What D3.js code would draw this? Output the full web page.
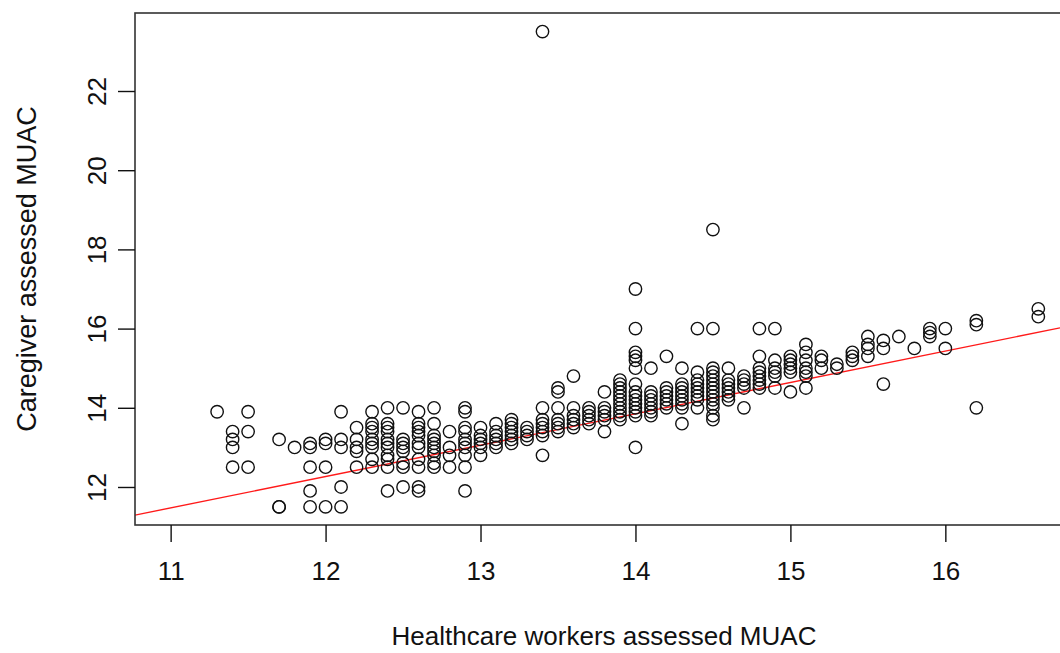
<!DOCTYPE html>
<html>

<head>
    <meta charset="utf-8">
    <script src="https://d3js.org/d3.v7.min.js" type="text/javascript"></script>
    <style>
    html,
    body {
        margin: 0;
        background: #fff;
    }
    svg {
        display: block;
    }
    .pt {
        fill: none;
        stroke: #111;
        stroke-width: 1.4px;
    }
    .fitline {
        stroke: #ff1a1a;
        stroke-width: 1.4px;
        fill: none;
    }
    .frame {
        fill: none;
        stroke: #333;
        stroke-width: 1.6px;
    }
    text {
        font-family: "Liberation Sans", Arial, Helvetica, sans-serif;
        fill: #111;
    }
    </style>
</head>

<body>
    <svg id="chart" width="1060" height="653"></svg>
    <script type="text/javascript">
    // healthcare worker MUAC values (x), one entry per column of points
    var hwMuac = [11.3, 11.4, 11.5, 11.7, 11.8, 11.9, 12.0, 12.1, 12.2, 12.3, 12.4, 12.5, 12.6, 12.7,
        12.8, 12.9, 13.0, 13.1, 13.2, 13.3, 13.4, 13.5, 13.6, 13.7, 13.8, 13.9, 14.0, 14.1, 14.2,
        14.3, 14.4, 14.5, 14.6, 14.7, 14.8, 14.9, 15.0, 15.1, 15.2, 15.3, 15.4, 15.5, 15.6, 15.7,
        15.8, 15.9, 16.0, 16.2, 16.6];

    // caregiver MUAC values (y) read for each column above
    var cgMuac = [
        [13.9],
        [13.4, 13.2, 13.0, 12.5],
        [13.9, 13.4, 12.5],
        [13.2, 11.5, 11.5],
        [13.0],
        [13.1, 13.0, 12.5, 11.9, 11.5],
        [13.2, 13.1, 12.5, 11.5],
        [13.9, 13.2, 13.0, 12.0, 11.5],
        [13.5, 13.2, 13.0, 12.9, 12.5],
        [13.9, 13.6, 13.5, 13.4, 13.2, 13.1, 13.0, 12.7, 12.5],
        [14.0, 13.6, 13.5, 13.4, 13.2, 13.1, 13.0, 12.8, 12.7, 12.5, 11.9],
        [14.0, 13.2, 13.1, 13.0, 12.9, 12.6, 12.5, 12.0],
        [13.9, 13.6, 13.5, 13.4, 13.3, 13.1, 13.0, 12.7, 12.5, 12.0, 11.9],
        [14.0, 13.6, 13.3, 13.2, 13.1, 13.0, 12.9, 12.8, 12.6, 12.5],
        [13.4, 13.0, 12.8, 12.5],
        [14.0, 13.9, 13.5, 13.4, 13.2, 13.1, 13.0, 12.8, 12.5, 11.9],
        [13.5, 13.3, 13.2, 13.1, 13.0, 12.8],
        [13.6, 13.4, 13.3, 13.2, 13.1, 13.0],
        [13.7, 13.6, 13.5, 13.4, 13.3, 13.2, 13.1],
        [13.5, 13.4, 13.3, 13.2],
        [23.5, 14.0, 13.7, 13.6, 13.5, 13.4, 13.3, 12.8],
        [14.5, 14.4, 14.0, 13.7, 13.6, 13.5, 13.4],
        [14.8, 14.0, 13.8, 13.7, 13.6, 13.5],
        [14.0, 13.9, 13.8, 13.7, 13.6],
        [14.4, 14.0, 13.9, 13.8, 13.7, 13.4],
        [14.7, 14.6, 14.5, 14.4, 14.3, 14.2, 14.1, 14.0, 13.9, 13.8, 13.7],
        [17.0, 16.0, 15.4, 15.3, 15.2, 15.0, 14.6, 14.4, 14.3, 14.2, 14.1, 14.0, 13.9, 13.8, 13.0],
        [15.0, 14.4, 14.3, 14.2, 14.1, 14.0, 13.9, 13.8],
        [15.3, 14.5, 14.4, 14.3, 14.2, 14.1, 14.0],
        [15.0, 14.6, 14.5, 14.4, 14.3, 14.2, 14.1, 14.0, 13.6],
        [16.0, 14.9, 14.7, 14.6, 14.5, 14.4, 14.3, 14.2, 14.0],
        [18.5, 16.0, 15.0, 14.9, 14.8, 14.7, 14.6, 14.5, 14.4, 14.3, 14.2, 14.1, 14.0, 13.8, 13.7],
        [15.0, 14.7, 14.6, 14.5, 14.4, 14.3, 14.2],
        [14.8, 14.7, 14.6, 14.5, 14.0],
        [16.0, 15.3, 15.0, 14.9, 14.8, 14.7, 14.6, 14.5],
        [16.0, 15.2, 15.0, 14.9, 14.8, 14.5],
        [15.3, 15.2, 15.1, 15.0, 14.9, 14.4],
        [15.6, 15.4, 15.2, 15.0, 14.9, 14.8, 14.5],
        [15.3, 15.2, 15.0],
        [15.1, 15.0],
        [15.4, 15.3, 15.2],
        [15.8, 15.6, 15.5, 15.3],
        [15.7, 15.5, 14.6],
        [15.8],
        [15.5],
        [16.0, 15.9, 15.8],
        [16.0, 15.5],
        [16.2, 16.1, 14.0],
        [16.5, 16.3]
    ];

    var xTicks = [11, 12, 13, 14, 15, 16];
    var yTicks = [12, 14, 16, 18, 20, 22];

    // fitted line (intercept, slope)
    var fitCoef = [2.76, 0.792];

    var xLabel = "Healthcare workers assessed MUAC";
    var yLabel = "Caregiver assessed MUAC";

    // plot region, the right side runs off the page like the original
    var box = { left: 135, top: 13, right: 1060, bottom: 525 };

    var x = d3.scaleLinear().domain([10.77, 16.74]).range([box.left, box.right]);
    var y = d3.scaleLinear().domain([11.04, 23.97]).range([box.bottom, box.top]);

    var svg = d3.select("#chart");

    // flatten columns into points
    var points = [];
    hwMuac.forEach(function(hw, i) {
        cgMuac[i].forEach(function(cg) {
            points.push({ hw: hw, cg: cg });
        });
    });

    svg.append("defs").append("clipPath")
        .attr("id", "plotclip")
        .append("rect")
        .attr("x", box.left)
        .attr("y", box.top)
        .attr("width", box.right - box.left + 20)
        .attr("height", box.bottom - box.top);

    // regression line across the whole plot
    var xd = x.domain();
    svg.append("line")
        .attr("class", "fitline")
        .attr("clip-path", "url(#plotclip)")
        .attr("x1", x(xd[0]))
        .attr("y1", y(fitCoef[0] + fitCoef[1] * xd[0]))
        .attr("x2", x(xd[1]))
        .attr("y2", y(fitCoef[0] + fitCoef[1] * xd[1]));

    svg.append("g")
        .selectAll("circle")
        .data(points)
        .enter()
        .append("circle")
        .attr("class", "pt")
        .attr("r", 6.2)
        .attr("cx", function(d) { return x(d.hw); })
        .attr("cy", function(d) { return y(d.cg); });

    // frame (right edge is off the canvas)
    svg.append("rect")
        .attr("class", "frame")
        .attr("x", box.left)
        .attr("y", box.top)
        .attr("width", box.right - box.left + 10)
        .attr("height", box.bottom - box.top);

    // bottom axis: ticks only, no axis line
    var xAxis = d3.axisBottom(x)
        .tickValues(xTicks)
        .tickSize(17)
        .tickPadding(20)
        .tickFormat(d3.format("d"));

    var gx = svg.append("g")
        .attr("transform", "translate(0," + box.bottom + ")")
        .call(xAxis);
    gx.select(".domain").remove();
    gx.selectAll(".tick line").attr("stroke", "#111").attr("stroke-width", 1.4);
    gx.selectAll(".tick text")
        .style("font-size", "26px")
        .style("font-family", "Liberation Sans, Arial, sans-serif")
        .attr("fill", "#111");

    // left axis with rotated labels, R style
    var yAxis = d3.axisLeft(y)
        .tickValues(yTicks)
        .tickSize(17)
        .tickFormat(d3.format("d"));

    var gy = svg.append("g")
        .attr("transform", "translate(" + box.left + ",0)")
        .call(yAxis);
    gy.select(".domain").remove();
    gy.selectAll(".tick line").attr("stroke", "#111").attr("stroke-width", 1.4);
    gy.selectAll(".tick text")
        .attr("x", null)
        .attr("dy", null)
        .attr("text-anchor", "middle")
        .attr("dominant-baseline", "central")
        .attr("transform", "translate(-38,0) rotate(-90)")
        .style("font-size", "26px")
        .style("font-family", "Liberation Sans, Arial, sans-serif")
        .attr("fill", "#111");

    // axis titles
    svg.append("text")
        .attr("x", (box.left + 1073) / 2)
        .attr("y", 636)
        .attr("text-anchor", "middle")
        .attr("dominant-baseline", "central")
        .style("font-size", "26px")
        .text(xLabel);

    svg.append("text")
        .attr("transform", "translate(27," + (box.top + box.bottom) / 2 + ") rotate(-90)")
        .attr("text-anchor", "middle")
        .attr("dominant-baseline", "central")
        .style("font-size", "27px")
        .text(yLabel);
    </script>
</body>

</html>
